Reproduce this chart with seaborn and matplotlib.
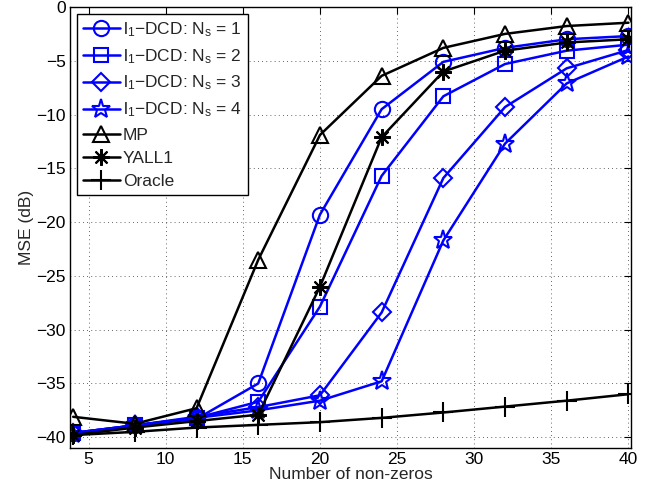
import matplotlib
matplotlib.use("Agg")
import matplotlib.pyplot as plt
import seaborn as sns
import pandas as pd

# ---- data ----
nonzeros = [4, 8, 12, 16, 20, 24, 28, 32, 36, 40]
dcd_ns1 = [-39.6, -38.9, -38.3, -35.0, -19.3, -9.5, -5.1, -3.8, -3.0, -2.7]
dcd_ns2 = [-39.6, -38.9, -38.2, -36.7, -27.85, -15.7, -8.3, -5.3, -4.06, -3.5]
dcd_ns3 = [-39.6, -38.9, -38.1, -37.2, -36.1, -28.4, -15.9, -9.3, -5.7, -4.0]
dcd_ns4 = [-39.7, -38.9, -38.2, -37.5, -36.6, -34.8, -21.7, -12.7, -7.1, -4.6]
mp = [-38.1, -38.75, -37.3, -23.5, -11.9, -6.4, -3.8, -2.5, -1.77, -1.46]
yall1 = [-39.8, -39.1, -38.5, -37.9, -26.0, -12.1, -6.0, -4.06, -3.3, -3.0]
oracle = [-39.8, -39.5, -39.1, -38.85, -38.6, -38.2, -37.7, -37.15, -36.6, -36.0]

labels = [r"l$_1$$-$DCD: N$_s$ = 1", r"l$_1$$-$DCD: N$_s$ = 2",
          r"l$_1$$-$DCD: N$_s$ = 3", r"l$_1$$-$DCD: N$_s$ = 4",
          "MP", "YALL1", "Oracle"]
series = [dcd_ns1, dcd_ns2, dcd_ns3, dcd_ns4, mp, yall1, oracle]
colors = ["#0000ff"] * 4 + ["black"] * 3
markers = ["o", "s", "D", "*", "^", (8, 2, 0), "+"]
msizes = [11, 10, 9, 14, 12, 12, 14]

xticks = [5, 10, 15, 20, 25, 30, 35, 40]
yticks = [0, -5, -10, -15, -20, -25, -30, -35, -40]

sns.set_theme(style="white")
plt.rcParams["font.family"] = ["Liberation Sans", "DejaVu Sans"]
plt.rcParams["mathtext.fontset"] = "custom"
plt.rcParams["mathtext.rm"] = "Liberation Sans"
plt.rcParams["mathtext.it"] = "Liberation Sans"
plt.rcParams["mathtext.default"] = "regular"

FS = 12.5
fig = plt.figure(figsize=(6.55, 4.93), dpi=100)
ax = fig.add_axes([0.107, 0.0913, 0.856, 0.8945])

for lab, ys, c, m, ms in zip(labels, series, colors, markers, msizes):
    df = pd.DataFrame({"x": nonzeros, "y": ys})
    sns.lineplot(data=df, x="x", y="y", ax=ax, color=c, linewidth=1.8,
                 marker=m, markersize=ms, markerfacecolor="none",
                 markeredgecolor=c, markeredgewidth=1.5, label=lab,
                 legend=False)

ax.set_xlim(3.8, 40.15)
ax.set_ylim(-41, 0)
ax.set_xticks(xticks)
ax.set_yticks(yticks)
ax.tick_params(direction="in", length=5, width=0.8, top=True, right=True,
               labelsize=FS, colors="black", pad=3)
for s in ax.spines.values():
    s.set_color("black")
    s.set_linewidth(1.0)
ax.grid(True, linestyle=(0, (1, 4)), color="black", linewidth=0.6, alpha=0.8)
ax.set_xlabel("Number of non-zeros", fontsize=FS, labelpad=0)
ax.set_ylabel("MSE (dB)", fontsize=FS, labelpad=2)

leg = ax.legend(loc="upper left", fontsize=FS, frameon=True, fancybox=False,
                framealpha=1, edgecolor="black", handlelength=2.1,
                labelspacing=0.47, borderpad=0.35, handletextpad=0.2,
                borderaxespad=0.4)
leg.get_frame().set_linewidth(1.0)

fig.savefig("out.png", dpi=100)
